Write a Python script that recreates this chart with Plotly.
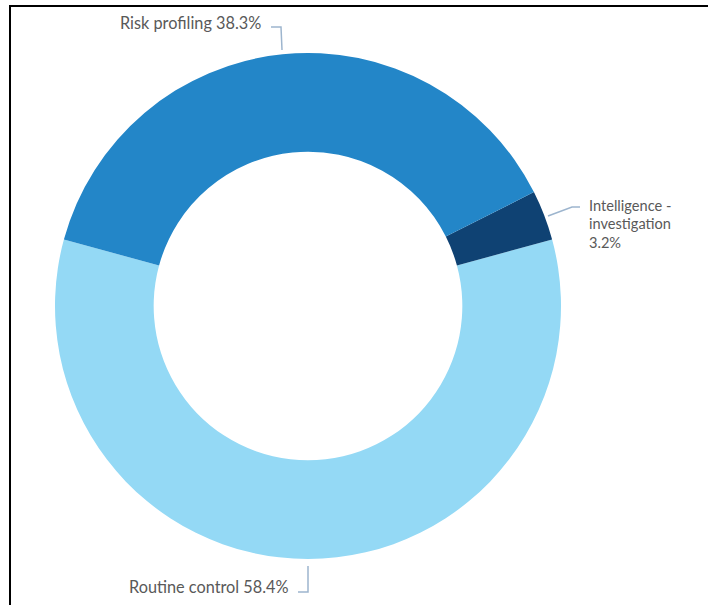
import plotly.graph_objects as go

W, H = 708, 605

# data
categories = ["Routine control", "Intelligence - investigation", "Risk profiling"]
values = [58.4, 3.2, 38.3]
colors = ["#94D9F5", "#0F4273", "#2386C8"]

# geometry (pixels)
cx, cy, R = 308, 306, 253


def px(x, y):
    return x / W, 1 - y / H


dx0, dy1 = px(cx - R, cy - R)
dx1, dy0 = px(cx + R, cy + R)

# first slice (Routine control) centred at the bottom
rot = 180 - values[0] / sum(values) * 360 / 2

fig = go.Figure(go.Pie(
    labels=categories,
    values=values,
    marker=dict(colors=colors, line=dict(width=0)),
    hole=0.61,
    sort=False,
    direction="counterclockwise",
    rotation=rot,
    textinfo="none",
    hoverinfo="label+percent",
    domain=dict(x=[dx0, dx1], y=[dy0, dy1]),
    showlegend=False,
))

label_font = dict(family="Lato, sans-serif", size=16.3, color="#595959")
intel_font = dict(family="Lato, sans-serif", size=14.6, color="#595959")
line_col = "#9DB5CE"

shapes = []
annotations = []


def path(points):
    pts = [px(x, y) for x, y in points]
    d = "M " + " L ".join(f"{a},{b}" for a, b in pts)
    return dict(type="path", xref="paper", yref="paper", path=d,
                line=dict(color=line_col, width=1.5))


# leader lines (layout decorations)
shapes.append(path([(282, 50), (281, 27), (271, 27)]))
shapes.append(path([(548, 216), (572, 207), (580, 207)]))
shapes.append(path([(308, 566), (308, 592), (298, 592)]))


def label(x, y, text, anchor, font):
    ax, ay = px(x, y)
    annotations.append(dict(x=ax, y=ay, xref="paper", yref="paper", xanchor=anchor,
                            yanchor="middle", text=text, showarrow=False, font=font))


label(263, 22, f"{categories[2]} {values[2]}%", "right", label_font)
intel_lines = ["Intelligence -", "investigation", f"{values[1]}%"]
for i, t in enumerate(intel_lines):
    label(587, 206 + 18 * i, t, "left", intel_font)
label(291, 586, f"{categories[0]} {values[0]}%", "right", label_font)

# frame border (left and top)
fx, fy = px(10, 6)
shapes.append(dict(type="path", xref="paper", yref="paper",
                   path=f"M {fx},-0.05 L {fx},{fy} L 1.05,{fy}",
                   line=dict(color="#000000", width=2)))

fig.update_layout(
    width=W, height=H,
    margin=dict(l=0, r=0, t=0, b=0),
    paper_bgcolor="#FFFFFF",
    plot_bgcolor="#FFFFFF",
    shapes=shapes,
    annotations=annotations,
)

fig.write_html("out.html")
